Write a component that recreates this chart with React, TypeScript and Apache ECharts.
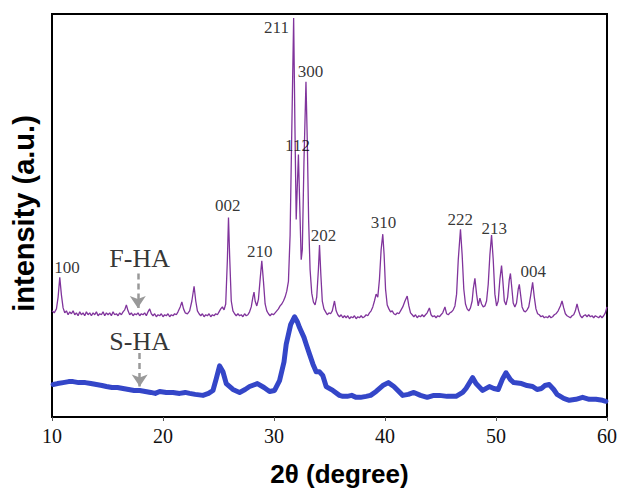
import React, { useEffect, useRef } from "react";
import * as echarts from "echarts";

// F-HA pattern: [2θ, intensity (a.u.)]
const fHA: [number, number][] = [
  [10.0, 108], [10.2, 106], [10.4, 110], [10.55, 122], [10.7, 142], [10.85, 124], [11.0, 111], [11.15, 106],
  [11.3, 108], [11.45, 104], [11.6, 107], [11.75, 105], [11.9, 108], [12.05, 104], [12.2, 106], [12.35, 103],
  [12.5, 107], [12.65, 104], [12.8, 106], [12.95, 103], [13.1, 107], [13.25, 104], [13.4, 106], [13.55, 103],
  [13.7, 106], [13.85, 104], [14.0, 107], [14.15, 103], [14.3, 105], [14.45, 104], [14.6, 107], [14.75, 103],
  [14.9, 106], [15.05, 104], [15.2, 106], [15.35, 103], [15.5, 107], [15.65, 104], [15.8, 105], [15.95, 103],
  [16.1, 106], [16.25, 104], [16.4, 107], [16.55, 109], [16.7, 114], [16.85, 108], [17.0, 104], [17.15, 106],
  [17.3, 103], [17.45, 105], [17.6, 104], [17.75, 106], [17.9, 103], [18.05, 105], [18.2, 104], [18.35, 106],
  [18.5, 103], [18.65, 107], [18.8, 110], [18.95, 105], [19.1, 103], [19.25, 105], [19.4, 102], [19.55, 104],
  [19.7, 103], [19.85, 105], [20.0, 102], [20.15, 104], [20.3, 103], [20.45, 105], [20.6, 102], [20.75, 104],
  [20.9, 103], [21.05, 105], [21.2, 104], [21.35, 107], [21.55, 112], [21.7, 117], [21.85, 110], [22.0, 106],
  [22.2, 105], [22.4, 108], [22.6, 118], [22.8, 133], [22.95, 118], [23.1, 108], [23.25, 105], [23.4, 103],
  [23.55, 105], [23.7, 102], [23.85, 104], [24.0, 103], [24.15, 105], [24.3, 102], [24.45, 104], [24.6, 103],
  [24.75, 105], [24.9, 104], [25.05, 107], [25.2, 110], [25.35, 112], [25.5, 109], [25.65, 115], [25.8, 160],
  [25.9, 203], [26.0, 165], [26.15, 118], [26.3, 108], [26.45, 105], [26.6, 103], [26.75, 105], [26.9, 103],
  [27.05, 104], [27.2, 102], [27.35, 105], [27.5, 103], [27.65, 104], [27.8, 107], [27.95, 112], [28.1, 122],
  [28.2, 127], [28.3, 118], [28.45, 113], [28.6, 120], [28.75, 140], [28.9, 159], [29.05, 138], [29.2, 115],
  [29.35, 108], [29.5, 105], [29.65, 103], [29.8, 105], [29.95, 104], [30.1, 106], [30.25, 108], [30.4, 110],
  [30.55, 113], [30.7, 115], [30.85, 118], [31.0, 122], [31.15, 128], [31.3, 138], [31.45, 185], [31.6, 290],
  [31.77, 406], [31.88, 300], [32.0, 201], [32.1, 235], [32.2, 267], [32.32, 215], [32.45, 160], [32.55, 170],
  [32.7, 260], [32.88, 341], [33.0, 280], [33.12, 200], [33.25, 150], [33.4, 126], [33.55, 117], [33.7, 114],
  [33.85, 122], [34.0, 150], [34.1, 175], [34.22, 145], [34.35, 118], [34.5, 110], [34.65, 107], [34.8, 104],
  [34.95, 106], [35.1, 105], [35.25, 108], [35.45, 118], [35.6, 108], [35.75, 104], [35.9, 102], [36.05, 104],
  [36.2, 101], [36.35, 103], [36.5, 101], [36.65, 103], [36.8, 100], [36.95, 102], [37.1, 101], [37.25, 103],
  [37.4, 100], [37.55, 102], [37.7, 101], [37.85, 103], [38.0, 101], [38.15, 102], [38.3, 104], [38.45, 103],
  [38.6, 106], [38.75, 108], [38.9, 112], [39.05, 118], [39.2, 125], [39.35, 122], [39.5, 140], [39.65, 170],
  [39.8, 186], [39.92, 165], [40.05, 130], [40.2, 114], [40.35, 110], [40.5, 107], [40.65, 108], [40.8, 105],
  [40.95, 104], [41.1, 106], [41.25, 105], [41.4, 108], [41.6, 112], [41.8, 118], [42.0, 123], [42.15, 113],
  [42.3, 106], [42.45, 104], [42.6, 102], [42.75, 104], [42.9, 101], [43.05, 103], [43.2, 102], [43.35, 104],
  [43.5, 102], [43.65, 104], [43.8, 106], [44.0, 111], [44.15, 104], [44.3, 102], [44.45, 103], [44.6, 101],
  [44.75, 103], [44.9, 102], [45.05, 104], [45.2, 106], [45.4, 112], [45.55, 105], [45.7, 104], [45.85, 106],
  [46.0, 107], [46.15, 109], [46.3, 113], [46.45, 125], [46.6, 160], [46.8, 191], [46.95, 165], [47.1, 130],
  [47.25, 115], [47.4, 110], [47.55, 108], [47.7, 111], [47.85, 118], [47.95, 130], [48.1, 141], [48.25, 125],
  [48.4, 113], [48.55, 121], [48.7, 115], [48.85, 112], [49.0, 113], [49.15, 118], [49.3, 135], [49.45, 165],
  [49.6, 185], [49.75, 160], [49.9, 125], [50.05, 113], [50.2, 118], [50.35, 140], [50.5, 154], [50.62, 138],
  [50.75, 118], [50.9, 114], [51.05, 122], [51.2, 140], [51.3, 146], [51.42, 132], [51.55, 116], [51.7, 112],
  [51.85, 116], [52.0, 130], [52.1, 135], [52.22, 124], [52.35, 112], [52.5, 108], [52.65, 107], [52.8, 109],
  [52.95, 112], [53.1, 122], [53.3, 137], [53.45, 122], [53.6, 110], [53.75, 105], [53.9, 104], [54.05, 102],
  [54.2, 103], [54.35, 101], [54.5, 102], [54.65, 101], [54.8, 103], [54.95, 101], [55.1, 102], [55.25, 104],
  [55.4, 105], [55.6, 108], [55.8, 113], [55.95, 118], [56.1, 111], [56.25, 105], [56.4, 103], [56.55, 102],
  [56.7, 101], [56.85, 103], [57.0, 104], [57.15, 108], [57.3, 115], [57.45, 108], [57.6, 103], [57.75, 101],
  [57.9, 103], [58.05, 104], [58.2, 102], [58.35, 104], [58.5, 102], [58.65, 103], [58.8, 101], [58.95, 103],
  [59.1, 102], [59.25, 101], [59.4, 103], [59.55, 101], [59.7, 103], [59.85, 106], [60.0, 112],
];

// S-HA pattern: [2θ, intensity (a.u.)]
const sHA: [number, number][] = [
  [10.1, 33], [10.5, 34], [11.0, 35], [11.5, 36], [11.9, 36], [12.4, 35], [13.0, 35], [13.5, 34],
  [14.0, 33], [14.5, 32], [14.9, 31], [15.4, 30], [15.9, 30], [16.4, 29], [16.9, 28], [17.4, 27],
  [17.9, 27], [18.4, 26], [18.9, 25], [19.3, 24], [19.7, 26], [20.3, 25], [20.9, 25], [21.5, 24],
  [22.0, 25], [22.4, 24], [22.9, 23], [23.6, 22], [24.1, 24], [24.5, 27], [24.8, 39], [25.1, 52],
  [25.4, 46], [25.7, 34], [26.3, 28], [26.9, 25], [27.4, 28], [27.8, 31], [28.5, 34], [29.1, 30],
  [29.6, 26], [30.05, 27], [30.5, 37], [30.9, 56], [31.1, 74], [31.5, 94], [31.85, 102], [32.1, 97],
  [32.3, 91], [32.7, 81], [32.9, 74], [33.2, 64], [33.5, 54], [33.8, 46], [34.1, 46], [34.4, 42],
  [34.7, 31], [35.3, 27], [35.9, 22], [36.2, 21], [36.6, 21], [37.0, 22], [37.4, 20], [37.8, 20],
  [38.3, 21], [38.7, 22], [39.2, 26], [39.8, 32], [40.3, 35], [40.8, 31], [41.6, 22], [42.1, 23],
  [42.6, 25], [43.2, 22], [43.8, 20], [44.4, 22], [44.9, 22], [45.6, 21], [46.4, 21], [47.0, 25],
  [47.3, 29], [47.9, 40], [48.2, 34], [48.8, 27], [49.4, 31], [49.8, 29], [50.2, 28], [50.6, 39],
  [50.9, 45], [51.3, 38], [51.6, 35], [52.3, 34], [52.8, 32], [53.3, 31], [53.7, 28], [54.1, 29],
  [54.4, 32], [54.8, 33], [55.2, 28], [55.5, 23], [56.1, 19], [56.6, 17], [57.2, 18], [57.8, 20],
  [58.4, 18], [59.0, 18], [59.6, 17], [59.9, 16],
];

// Miller-index labels and where they sit (data coordinates)
const peakLabels = ["100", "002", "210", "211", "112", "300", "202", "310", "222", "213", "004"];
const peakLabelTheta = [11.35, 25.83, 28.71, 30.23, 32.12, 33.29, 34.46, 39.86, 46.78, 49.84, 53.35];
const peakLabelValue = [152, 215, 168, 396, 276, 351, 185, 198, 201, 192, 148];

const sampleNames = ["F-HA", "S-HA"];
const sampleNameTheta = [17.9, 17.9];
const sampleNameValue = [161, 77];
// arrows: [theta, from, to]
const arrows: [number, number, number][] = [
  [17.73, 146, 111],
  [17.9, 65, 31],
];

const xTicks = { min: 10, max: 60, interval: 10 };

export default function App() {
  const ref = useRef<HTMLDivElement>(null);
  useEffect(() => {
    document.body.style.margin = "0";
    if (!ref.current) return;
    const chart = echarts.init(ref.current, undefined, { renderer: "svg" });
    chart.setOption({
      animation: false,
      backgroundColor: "#fff",
      grid: {
        left: 52,
        right: 12,
        top: 14,
        bottom: 68,
        show: true,
        borderColor: "#000",
        borderWidth: 2,
      },
      xAxis: {
        type: "value",
        min: xTicks.min,
        max: xTicks.max,
        interval: xTicks.interval,
        splitLine: { show: false },
        axisLine: { lineStyle: { color: "#000", width: 2 } },
        axisTick: { show: true, inside: false, length: 4, lineStyle: { color: "#555", width: 1 } },
        axisLabel: {
          color: "#111",
          fontFamily: "Liberation Serif",
          fontSize: 20,
          margin: 9,
        },
        name: "2θ (degree)",
        nameLocation: "middle",
        nameGap: 44,
        nameTextStyle: {
          color: "#000",
          fontFamily: "Liberation Sans",
          fontWeight: "bold",
          fontSize: 26,
          padding: [0, 0, 0, 20],
        },
      },
      yAxis: {
        type: "value",
        min: 0,
        max: 410,
        splitLine: { show: false },
        axisLine: { show: true, lineStyle: { color: "#000", width: 2 } },
        axisTick: { show: false },
        axisLabel: { show: false },
        name: "intensity (a.u.)",
        nameLocation: "middle",
        nameGap: 14,
        nameTextStyle: {
          color: "#000",
          fontFamily: "Liberation Sans",
          fontWeight: "bold",
          fontSize: 29,
          padding: [0, 0, 0, 4],
        },
      },
      series: [
        {
          name: "F-HA",
          type: "line",
          data: fHA,
          showSymbol: false,
          lineStyle: { color: "#80349c", width: 1.3 },
          z: 3,
        },
        {
          name: "S-HA",
          type: "line",
          data: sHA,
          showSymbol: false,
          lineStyle: { color: "#3446c8", width: 5, join: "round", cap: "round" },
          z: 2,
          markLine: {
            silent: true,
            symbol: ["none", "arrow"],
            symbolSize: [12, 12],
            label: { show: false },
            lineStyle: { color: "#999", width: 2.5, type: [6, 4] },
            data: arrows.map(([t, a, b]) => [
              { coord: [t, a] },
              { coord: [t, b] },
            ]),
          },
        },
        {
          name: "peakLabels",
          type: "scatter",
          symbolSize: 1,
          itemStyle: { color: "rgba(0,0,0,0)" },
          data: peakLabelTheta.map((t, i) => ({ value: [t, peakLabelValue[i]], name: peakLabels[i] })),
          label: {
            show: true,
            position: "inside",
            formatter: (p: any) => p.name,
            color: "#000",
            fontFamily: "Liberation Serif",
            fontSize: 17,
          },
          z: 5,
        },
        {
          name: "sampleNames",
          type: "scatter",
          symbolSize: 1,
          itemStyle: { color: "rgba(0,0,0,0)" },
          data: sampleNameTheta.map((t, i) => ({ value: [t, sampleNameValue[i]], name: sampleNames[i] })),
          label: {
            show: true,
            position: "inside",
            formatter: (p: any) => p.name,
            color: "#000",
            fontFamily: "Liberation Serif",
            fontSize: 26,
          },
          z: 5,
        },
      ],
    });
    return () => chart.dispose();
  }, []);
  return <div ref={ref} style={{ width: 620, height: 492 }} />;
}
